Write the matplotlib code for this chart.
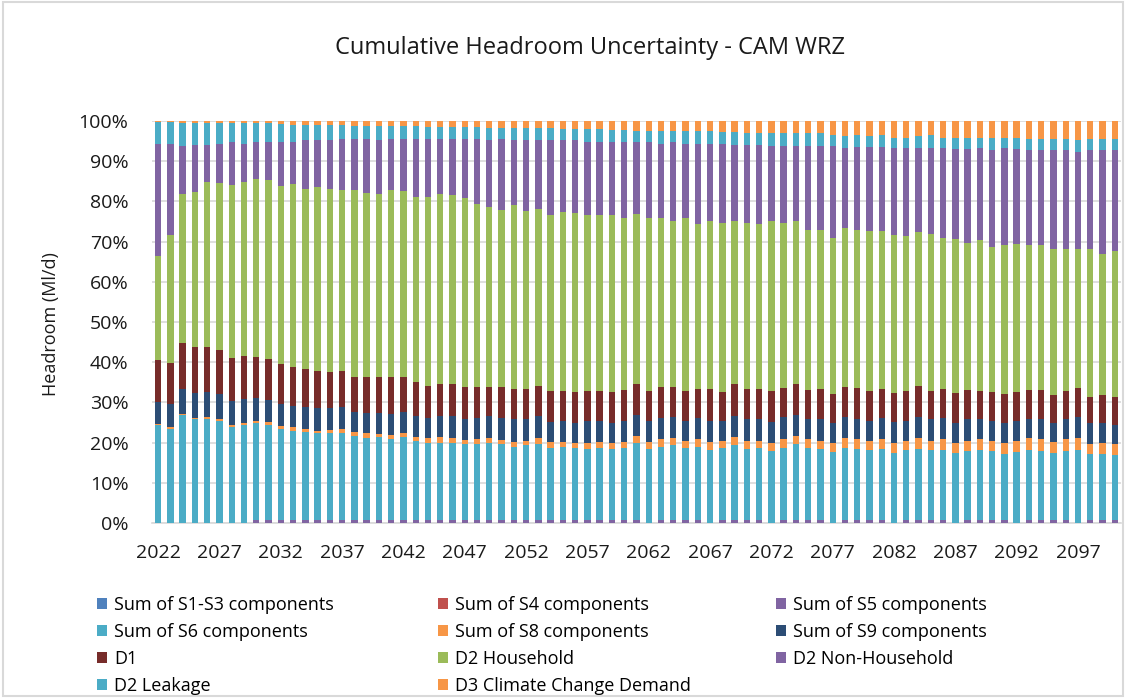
import numpy as np
import matplotlib
matplotlib.use("Agg")
import matplotlib.pyplot as plt
from matplotlib.patches import Patch, Rectangle

plt.rcParams["font.family"] = ["Open Sans", "DejaVu Sans"]

years = list(range(2022, 2101))

# share of each component per year (%)
s1_s3 = [0.0] * 79
s4 = [0.0] * 79
s5 = [0.0, 0.0, 0.0, 0.0, 0.0, 0.0, 0.0, 0.0, 0.8, 0.8,
      0.8, 0.8, 0.8, 0.8, 0.8, 0.8, 0.8, 0.8, 0.8, 0.8,
      0.8, 0.8, 0.8, 0.8, 0.8, 0.8, 0.8, 0.8, 0.8, 0.8,
      0.8, 0.8, 0.8, 0.8, 0.8, 0.8, 0.8, 0.8, 0.8, 0.8,
      0.0, 0.8, 0.8, 0.8, 0.8, 0.0, 0.8, 0.8, 0.8, 0.8,
      0.0, 0.8, 0.8, 0.8, 0.8, 0.0, 0.8, 0.8, 0.8, 0.8,
      0.0, 0.8, 0.8, 0.8, 0.8, 0.0, 0.8, 0.8, 0.8, 0.8,
      0.0, 0.8, 0.8, 0.8, 0.8, 0.0, 0.8, 0.8, 0.8]
s6 = [24.4, 23.5, 26.9, 25.8, 25.8, 25.5, 24.0, 24.3, 24.0, 23.7,
      22.6, 22.2, 21.9, 21.5, 21.7, 21.7, 20.9, 20.4, 20.6, 20.1,
      20.7, 19.6, 19.0, 19.2, 19.2, 18.8, 18.8, 19.0, 18.8, 18.2,
      18.5, 18.8, 17.9, 18.2, 17.9, 17.7, 17.9, 17.7, 17.9, 19.0,
      18.5, 18.2, 18.5, 17.9, 18.2, 18.2, 17.9, 18.5, 17.7, 17.9,
      17.9, 17.9, 18.8, 17.9, 17.7, 17.7, 17.9, 17.7, 17.4, 17.7,
      17.3, 17.4, 17.7, 17.4, 17.4, 17.3, 17.1, 17.4, 17.1, 16.3,
      17.7, 17.4, 17.1, 16.5, 17.1, 18.2, 16.3, 16.3, 16.0]
s8 = [0.2, 0.3, 0.2, 0.3, 0.6, 0.4, 0.4, 0.7, 0.5, 0.6,
      0.7, 0.8, 0.8, 0.7, 0.6, 0.8, 0.9, 1.1, 0.8, 1.0,
      1.0, 0.9, 1.3, 1.3, 1.1, 1.0, 1.2, 1.3, 1.0, 1.2,
      1.1, 1.5, 1.5, 1.2, 1.3, 1.5, 1.5, 1.5, 1.5, 1.8,
      1.7, 1.8, 1.8, 1.7, 1.8, 2.0, 1.7, 2.0, 2.0, 1.8,
      2.1, 2.1, 2.0, 2.1, 2.0, 2.1, 2.4, 2.3, 2.3, 2.3,
      2.7, 2.3, 2.6, 2.3, 2.6, 2.7, 2.6, 2.6, 2.6, 2.9,
      2.8, 2.9, 2.9, 2.9, 2.9, 2.9, 2.5, 2.9, 2.8]
s9 = [5.6, 5.8, 6.3, 6.2, 6.2, 6.2, 5.9, 5.8, 5.7, 5.6,
      5.5, 5.3, 5.3, 5.5, 5.4, 5.5, 5.1, 5.1, 5.2, 5.2,
      5.2, 5.3, 4.9, 5.3, 5.5, 5.2, 5.2, 5.5, 5.4, 5.6,
      5.4, 5.5, 5.0, 5.3, 5.0, 5.5, 5.3, 5.0, 5.3, 5.3,
      5.3, 5.2, 5.2, 5.1, 5.2, 5.3, 5.1, 5.3, 5.3, 5.3,
      5.2, 5.5, 5.3, 5.0, 5.3, 5.2, 5.2, 5.0, 5.0, 5.2,
      5.2, 5.0, 5.2, 5.3, 5.2, 4.8, 5.3, 5.0, 5.0, 5.0,
      5.0, 4.7, 5.0, 4.8, 5.0, 5.2, 5.2, 4.8, 4.8]
d1 = [10.3, 10.1, 11.3, 11.5, 11.2, 11.0, 10.7, 10.8, 10.4, 10.2,
      9.9, 9.8, 9.5, 9.3, 9.0, 8.9, 8.7, 8.8, 8.8, 9.1,
      8.5, 8.5, 8.2, 8.1, 8.1, 8.1, 7.9, 7.3, 7.9, 7.6,
      7.6, 7.6, 7.6, 7.3, 7.6, 7.3, 7.3, 7.6, 7.6, 7.8,
      7.3, 7.9, 7.6, 7.3, 7.4, 7.9, 7.1, 7.9, 7.6, 7.6,
      7.6, 7.4, 7.6, 7.3, 7.6, 7.0, 7.6, 7.9, 7.3, 7.4,
      7.1, 7.3, 7.9, 7.0, 7.4, 7.5, 7.3, 7.0, 7.1, 7.0,
      7.1, 7.3, 7.3, 6.8, 7.0, 7.4, 6.6, 7.0, 7.0]
d2_household = [25.8, 31.9, 37.1, 38.6, 41.1, 41.6, 43.0, 43.3, 44.2, 44.4,
                44.3, 45.4, 44.9, 45.9, 45.7, 45.1, 46.4, 45.8, 45.6, 46.6,
                46.4, 46.1, 47.0, 47.1, 46.8, 47.0, 45.5, 44.8, 44.0, 45.6,
                44.2, 44.0, 43.8, 44.6, 44.5, 43.8, 43.8, 44.0, 42.9, 42.2,
                43.2, 41.9, 41.3, 43.2, 41.0, 41.8, 42.0, 40.7, 41.2, 41.0,
                42.4, 40.9, 40.7, 39.9, 39.6, 38.9, 39.6, 39.3, 39.9, 39.3,
                39.3, 38.6, 38.3, 39.1, 37.5, 38.3, 36.6, 37.6, 36.1, 37.2,
                36.8, 36.1, 36.1, 36.3, 35.3, 34.4, 36.7, 35.1, 36.3]
d2_non_household = [27.9, 22.8, 12.1, 11.7, 9.2, 9.7, 10.7, 9.4, 9.1, 9.6,
                    10.9, 10.6, 12.1, 11.6, 12.1, 12.7, 12.7, 13.5, 13.5, 12.7,
                    12.9, 14.3, 14.3, 13.7, 14.0, 14.6, 16.1, 16.6, 17.6, 16.3,
                    17.7, 17.1, 18.7, 17.9, 18.2, 18.3, 18.3, 18.3, 18.7, 17.8,
                    18.7, 18.6, 19.5, 18.4, 20.0, 19.2, 19.8, 18.9, 19.5, 19.7,
                    18.7, 19.3, 18.7, 20.9, 20.9, 23.0, 19.8, 20.6, 20.9, 20.9,
                    21.7, 21.9, 20.8, 21.4, 22.4, 22.4, 23.3, 22.9, 24.1, 24.1,
                    23.6, 23.6, 23.6, 24.7, 24.7, 24.1, 24.7, 25.9, 25.1]
d2_leakage = [5.6, 5.4, 5.7, 5.5, 5.5, 5.2, 4.7, 5.1, 4.7, 4.5,
              4.6, 4.2, 3.8, 3.8, 3.8, 3.6, 3.3, 3.3, 3.5, 3.3,
              3.3, 3.3, 3.1, 3.1, 2.9, 3.1, 3.1, 3.0, 2.8, 3.0,
              3.0, 3.0, 2.9, 2.8, 2.7, 3.1, 3.0, 2.9, 3.0, 2.9,
              2.7, 3.0, 2.7, 3.0, 3.0, 3.0, 2.8, 3.1, 2.9, 2.9,
              3.0, 3.0, 3.0, 3.0, 3.0, 2.6, 3.1, 3.0, 2.8, 3.0,
              2.6, 2.6, 3.1, 3.3, 2.6, 2.9, 2.9, 2.6, 3.0, 2.5,
              2.8, 2.7, 2.7, 2.7, 2.7, 3.1, 2.7, 2.7, 2.7]
d3_climate = [0.2, 0.2, 0.4, 0.4, 0.4, 0.4, 0.6, 0.6, 0.6, 0.6,
              0.7, 0.9, 0.9, 0.9, 0.9, 0.9, 1.2, 1.2, 1.2, 1.2,
              1.2, 1.2, 1.4, 1.4, 1.6, 1.4, 1.4, 1.7, 1.7, 1.7,
              1.7, 1.7, 1.8, 1.9, 2.0, 2.0, 2.1, 2.2, 2.3, 2.4,
              2.6, 2.6, 2.6, 2.6, 2.6, 2.6, 2.8, 2.8, 3.0, 3.0,
              3.1, 3.1, 3.1, 3.1, 3.1, 3.5, 3.6, 3.4, 3.6, 3.4,
              4.1, 4.1, 3.6, 3.4, 4.1, 4.1, 4.1, 4.1, 4.2, 4.2,
              4.2, 4.5, 4.5, 4.5, 4.5, 4.7, 4.5, 4.5, 4.5]

labels = ["Sum of S1-S3 components", "Sum of S4 components", "Sum of S5 components",
          "Sum of S6 components", "Sum of S8 components", "Sum of S9 components",
          "D1", "D2 Household", "D2 Non-Household", "D2 Leakage",
          "D3 Climate Change Demand"]
series = [s1_s3, s4, s5, s6, s8, s9, d1, d2_household, d2_non_household,
          d2_leakage, d3_climate]
colors = ["#4F81BD", "#C0504D", "#8064A2", "#4BACC6", "#F79646", "#2C4D75",
          "#772C2A", "#9BBB59", "#8064A2", "#4BACC6", "#F79646"]

# 100% stacked: normalise each year to its total
data = np.array(series, dtype=float)
data = data / data.sum(axis=0) * 100

fig = plt.figure(figsize=(11.26, 6.98), dpi=100)
fig.patches.append(Rectangle((0.003, 0.003), 0.994, 0.994, transform=fig.transFigure,
                             fill=False, edgecolor="#D9D9D9", linewidth=1.5))
ax = fig.add_axes([0.135, 0.2507, 0.8605, 0.5759])

x = np.arange(len(years))
bottom = np.zeros(len(years))
for vals, col in zip(data, colors):
    ax.bar(x, vals, bottom=bottom, width=0.52, color=col, linewidth=0, zorder=3)
    bottom += vals

ax.set_xlim(-0.5, len(years) - 0.5)
ax.set_ylim(0, 100)
ax.set_yticks(range(0, 101, 10))
ax.set_yticklabels([f"{v}%" for v in range(0, 101, 10)])
ax.set_xticks(x[::5])
ax.set_xticklabels([str(y) for y in years[::5]])
ax.tick_params(axis="both", length=0, labelsize=14, colors="#1a1a1a")
ax.tick_params(axis="x", pad=15)
ax.tick_params(axis="y", pad=17)
ax.grid(axis="y", color="#D9D9D9", linewidth=1.2, zorder=0)
for side in ["left", "right", "top"]:
    ax.spines[side].set_visible(False)
ax.spines["bottom"].set_color("#D9D9D9")
ax.spines["bottom"].set_linewidth(1.2)

fig.text(0.045, 0.536, "Headroom (Ml/d)", rotation=90, ha="center", va="center",
         fontsize=13, color="#1a1a1a")
fig.text(0.524, 0.931, "Cumulative Headroom Uncertainty - CAM WRZ",
         ha="center", va="center", fontsize=17, color="#1a1a1a")

# legend laid out in three columns like the original
handles = [Patch(facecolor=c, edgecolor="none") for c in colors]
columns = [[0, 3, 6, 9], [1, 4, 7, 10], [2, 5, 8]]
col_x = [0.086, 0.389, 0.689]
for idx, cx in zip(columns, col_x):
    fig.legend([handles[i] for i in idx], [labels[i] for i in idx],
               loc="upper left", bbox_to_anchor=(cx, 0.146), frameon=False,
               fontsize=13, handlelength=0.55, handleheight=0.55, handletextpad=0.4,
               labelspacing=0.5, borderaxespad=0, borderpad=0)

fig.savefig("out.png", dpi=100)
